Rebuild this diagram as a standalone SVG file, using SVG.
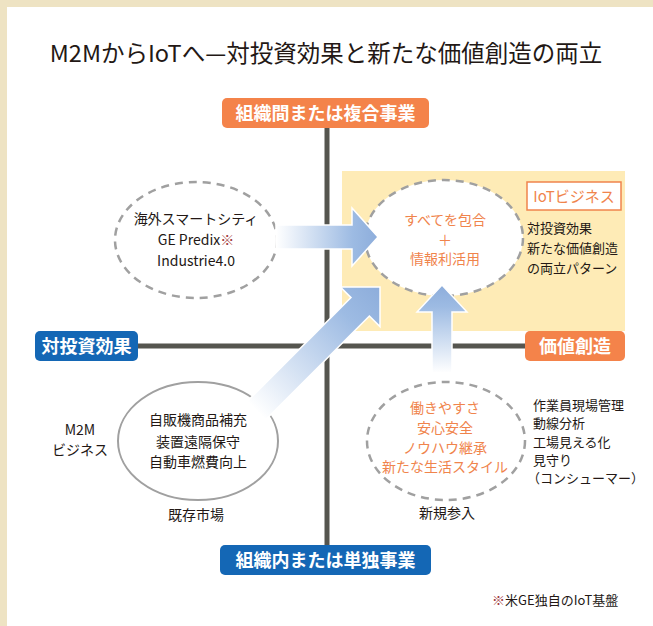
<svg xmlns="http://www.w3.org/2000/svg" width="653" height="626" viewBox="0 0 653 626">
<defs>
<style>
text{font-family:"Noto Sans CJK JP","Noto Sans",sans-serif;fill:#231815}
.t{font-size:14px}
.c{text-anchor:middle}
.or{fill:#F0844C}
.lab{font-size:18px;font-weight:bold;fill:#fff;text-anchor:middle}
.mk{fill:#A0393C}
.sm{font-size:13px}
.dash{fill:#fff;stroke:#A0A0A0;stroke-width:2.5;stroke-dasharray:8 6}
.axis{stroke:#55554F;stroke-width:5}
.arr{stroke:#fff;stroke-width:1.5}
</style>
<linearGradient id="gh" x1="0" y1="0" x2="1" y2="0">
<stop offset="0" stop-color="#FFFFFF"/>
<stop offset="0.75" stop-color="#9DBBE3"/>
<stop offset="1" stop-color="#8DADDB"/>
</linearGradient>
</defs>
<rect x="0" y="0" width="653" height="626" fill="#EEE3C3"/>
<rect x="7" y="7" width="646" height="619" fill="#FFFFFF"/>
<text x="326" y="62" class="c" style="font-size:23.5px">M2MからIoTへ—対投資効果と新たな価値創造の両立</text>
<rect id="iot-area" x="342" y="171" width="283" height="160" fill="#FEEBB6"/>
<g id="axes">
<line class="axis" x1="327" y1="126" x2="327" y2="546"/>
<line class="axis" x1="136" y1="346" x2="527" y2="346"/>
</g>
<g id="n-overseas">
<ellipse class="dash" cx="196" cy="240" rx="81" ry="58"/>
<text class="t c" x="196" y="224">海外スマートシティ</text>
<text class="t c" x="196" y="245">GE Predix<tspan class="mk">※</tspan></text>
<text class="t c" x="196" y="266">Industrie4.0</text>
</g>
<g id="n-iot">
<ellipse class="dash" cx="444" cy="238" rx="79" ry="58"/>
<text class="t c or" x="445" y="225">すべてを包合</text>
<text class="t c or" x="445" y="245">＋</text>
<text class="t c or" x="445" y="264">情報利活用</text>
</g>
<g id="n-iot-label">
<rect x="527" y="182" width="94" height="28" fill="#fff" stroke="#F0844C" stroke-width="1.5"/>
<text class="or c" x="574" y="202" style="font-size:15px">IoTビジネス</text>
<text class="sm" x="527" y="233">対投資効果</text>
<text class="sm" x="527" y="253">新たな価値創造</text>
<text class="sm" x="527" y="273">の両立パターン</text>
</g>
<g id="n-m2m">
<ellipse cx="198" cy="441" rx="80" ry="59" fill="#fff" stroke="#A0A0A0" stroke-width="2"/>
<text class="t c" x="198" y="425">自販機商品補充</text>
<text class="t c" x="198" y="447">装置遠隔保守</text>
<text class="t c" x="198" y="467">自動車燃費向上</text>
<text class="t c" x="80" y="435">M2M</text>
<text class="t c" x="80" y="455">ビジネス</text>
<text class="t c" x="196" y="520">既存市場</text>
</g>
<g id="n-new">
<ellipse class="dash" cx="446" cy="441" rx="79" ry="59"/>
<text class="t c or" x="445" y="413">働きやすさ</text>
<text class="t c or" x="445" y="433">安心安全</text>
<text class="t c or" x="445" y="453">ノウハウ継承</text>
<text class="t c or" x="445" y="472">新たな生活スタイル</text>
<text class="t c" x="447" y="518">新規参入</text>
<text class="sm" x="533" y="410">作業員現場管理</text>
<text class="sm" x="533" y="428">動線分析</text>
<text class="sm" x="533" y="447">工場見える化</text>
<text class="sm" x="533" y="465">見守り</text>
<text class="sm" x="527" y="483">（コンシューマー）</text>
</g>
<g id="connectors">
<path class="arr" fill="url(#gh)" d="M276,225 H352 V208 L378,237 L352,266 V249 H276 Z"/>
<path class="arr" fill="url(#gh)" transform="translate(380,287) rotate(-45) translate(-175,0)" d="M0,-13 H147 V-28 L175,0 L147,28 V13 H0 Z"/>
<path class="arr" fill="url(#gh)" transform="translate(442,285) rotate(-90) translate(-88,0)" d="M0,-10 H61 V-25 L88,0 L61,25 V10 H0 Z"/>
</g>
<g id="l-top">
<rect x="222" y="98" width="207" height="30" rx="5" fill="#F4834A"/>
<text class="lab" x="325.5" y="120">組織間または複合事業</text>
</g>
<g id="l-bottom">
<rect x="220" y="545" width="211" height="30" rx="5" fill="#1467B5"/>
<text class="lab" x="325.5" y="567">組織内または単独事業</text>
</g>
<g id="l-left">
<rect x="35" y="331" width="103" height="30" rx="5" fill="#1467B5"/>
<text class="lab" x="86.5" y="353">対投資効果</text>
</g>
<g id="l-right">
<rect x="525" y="331" width="100" height="30" rx="5" fill="#F4834A"/>
<text class="lab" x="575" y="353">価値創造</text>
</g>
<text style="font-size:13px" x="492" y="605"><tspan class="mk">※</tspan>米GE独自のIoT基盤</text>
</svg>
